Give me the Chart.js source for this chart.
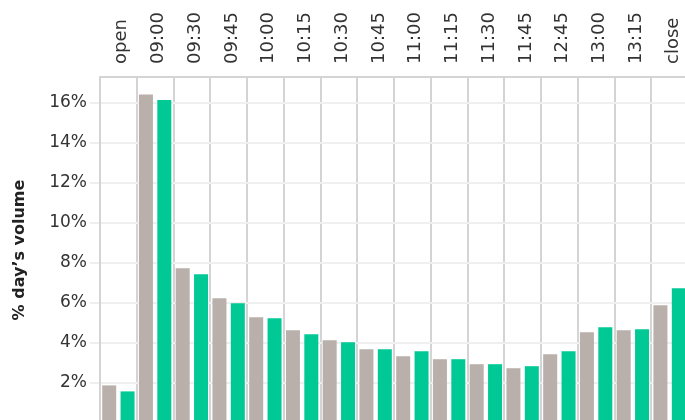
<!DOCTYPE html>
<html>
<head>
<meta charset="utf-8">
<script src="https://cdn.jsdelivr.net/npm/chart.js@4/dist/chart.umd.min.js"></script>
<style>
  html, body { margin: 0; padding: 0; width: 685px; height: 420px; overflow: hidden; background: #fff; }
  #wrap { position: absolute; left: 0; top: 0; width: 688px; height: 423px; }
</style>
</head>
<body>
<div id="wrap"><canvas id="c"></canvas></div>
<script>
// Intraday volume profile: share of the day's volume traded in each bucket
const categories = ['open', '09:00', '09:30', '09:45', '10:00', '10:15', '10:30', '10:45',
                    '11:00', '11:15', '11:30', '11:45', '12:45', '13:00', '13:15', 'close'];
const seriesA = [1.88, 16.42, 7.74, 6.24, 5.29, 4.64, 4.14, 3.69,
                 3.34, 3.19, 2.94, 2.74, 3.44, 4.54, 4.64, 5.89];
const seriesB = [1.58, 16.15, 7.44, 5.99, 5.24, 4.44, 4.04, 3.69,
                 3.59, 3.19, 2.94, 2.84, 3.59, 4.79, 4.69, 6.74];
const yTicks = [0, 2, 4, 6, 8, 10, 12, 14, 16];
const yMax = 17.3;

const FONT = "'DejaVu Sans', sans-serif";

new Chart(document.getElementById('c'), {
  type: 'bar',
  data: {
    labels: categories,
    datasets: [
      { data: seriesA, backgroundColor: '#b9b0ab', barPercentage: 0.762, categoryPercentage: 1 },
      { data: seriesB, backgroundColor: '#00c996', barPercentage: 0.762, categoryPercentage: 1 }
    ]
  },
  options: {
    responsive: true,
    maintainAspectRatio: false,
    animation: false,
    layout: { padding: 0 },
    plugins: { legend: { display: false }, tooltip: { enabled: false } },
    scales: {
      x: {
        position: 'top',
        offset: true,
        afterFit(scale) {
          scale.height = 77;
          scale.paddingLeft = 0; scale.paddingRight = 0;
        },
        grid: { offset: true, color: '#d4d4d4', lineWidth: 2, drawTicks: false },
        border: { color: '#d4d4d4', width: 2 },
        ticks: {
          minRotation: 90, maxRotation: 90, autoSkip: false, padding: 13, labelOffset: 25,
          color: '#333', font: { family: FONT, size: 18 }
        }
      },
      y: {
        min: 0, max: yMax,
        afterFit(scale) {
          scale.width = 100;
          scale.paddingTop = 0; scale.paddingBottom = 0;
        },
        afterBuildTicks(scale) { scale.ticks = yTicks.map(v => ({ value: v })); },
        grid: { color: '#efefef', lineWidth: 2, tickLength: 10 },
        border: { color: '#d4d4d4', width: 2 },
        ticks: {
          padding: 3, color: '#333', font: { family: FONT, size: 17 },
          callback: v => (v === 0 ? '' : v + '%')
        },
        title: {
          display: true, text: '% day’s volume', color: '#222',
          font: { family: FONT, size: 16, weight: 'bold' },
          padding: { top: 10, bottom: 4 }
        }
      }
    }
  }
});
</script>
</body>
</html>
